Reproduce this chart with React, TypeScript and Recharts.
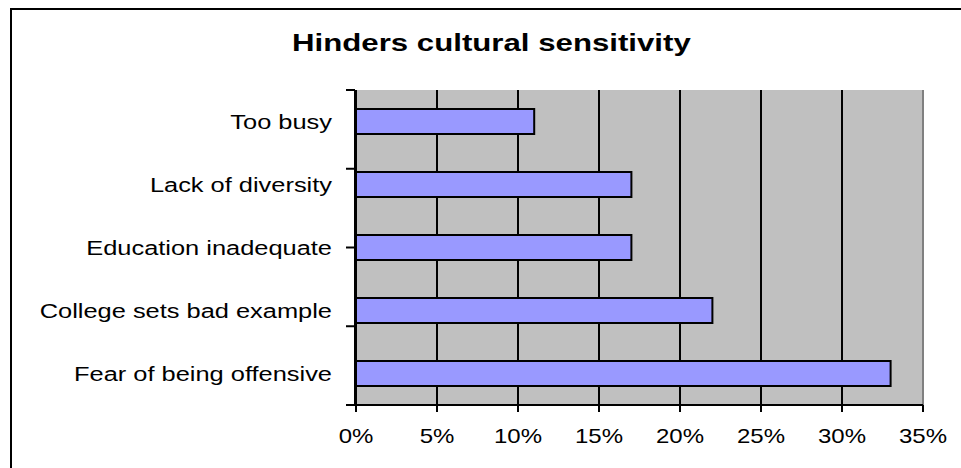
import React from "react";
import { BarChart, Bar, XAxis, YAxis, CartesianGrid, ReferenceLine } from "recharts";

const categories = [
  "Too busy",
  "Lack of diversity",
  "Education inadequate",
  "College sets bad example",
  "Fear of being offensive",
];
const values = [0.11, 0.17, 0.17, 0.22, 0.33];
const xTicks = [0, 0.05, 0.1, 0.15, 0.2, 0.25, 0.3, 0.35];
const boundaryTicks = [0, 1, 2, 3, 4, 5];
const title = "Hinders cultural sensitivity";

const data = categories.map((c, i) => ({ name: c, value: values[i] }));

const FONT = "'Liberation Sans', Arial, sans-serif";

const YTick = (props: any) => {
  const { x, y, payload } = props;
  return (
    <text
      transform={`translate(${x}, ${y}) scale(1.27, 1)`}
      x={0}
      y={0}
      dy={7}
      textAnchor="end"
      fontSize={20}
      fontFamily={FONT}
      fill="#000"
    >
      {payload.value}
    </text>
  );
};

const XTick = (props: any) => {
  const { x, y, payload } = props;
  return (
    <text
      transform={`translate(${x}, ${y}) scale(1.2, 1)`}
      x={0}
      y={0}
      dy={14.3}
      textAnchor="middle"
      fontSize={20}
      fontFamily={FONT}
      fill="#000"
    >
      {`${Math.round(payload.value * 100)}%`}
    </text>
  );
};

const EmptyTick = () => <g />;

export default function App() {
  return (
    <div
      style={{
        position: "fixed",
        left: 0,
        top: 0,
        width: 961,
        height: 468,
        overflow: "hidden",
        background: "#fff",
      }}
    >
      <div
        style={{
          position: "absolute",
          left: 10,
          top: 8,
          width: 2000,
          height: 2000,
          border: "2px solid #000",
        }}
      />
      <div
        style={{
          position: "absolute",
          left: 0,
          top: 31.4,
          width: 982,
          textAlign: "center",
          fontFamily: FONT,
          fontWeight: "bold",
          fontSize: 24,
          lineHeight: "24px",
          color: "#000",
          whiteSpace: "nowrap",
        }}
      >
        <span style={{ display: "inline-block", transform: "scaleX(1.3)" }}>{title}</span>
      </div>
      <div style={{ position: "absolute", left: 0, top: 0 }}>
        <BarChart
          width={961}
          height={468}
          data={data}
          layout="vertical"
          margin={{ top: 90, right: 38, bottom: 23, left: 0 }}
        >
          <CartesianGrid
            yAxisId="cat"
            horizontal={false}
            vertical={true}
            fill="#C0C0C0"
            fillOpacity={1}
            stroke="#000"
            strokeWidth={2}
          />
          <XAxis
            type="number"
            domain={[0, 0.35]}
            ticks={xTicks}
            interval={0}
            height={40}
            tickSize={7}
            tickMargin={17}
            axisLine={{ stroke: "#000", strokeWidth: 2 }}
            tickLine={{ stroke: "#000", strokeWidth: 2 }}
            tick={<XTick />}
          />
          <YAxis
            yAxisId="cat"
            type="category"
            dataKey="name"
            width={1}
            tickSize={0}
            tickMargin={24}
            axisLine={false}
            tickLine={false}
            interval={0}
            tick={<YTick />}
          />
          <YAxis
            yAxisId="tk"
            type="number"
            domain={[0, 5]}
            ticks={boundaryTicks}
            interval={0}
            width={355}
            tickSize={9}
            tick={<EmptyTick />}
            tickLine={{ stroke: "#000", strokeWidth: 2 }}
            axisLine={{ stroke: "#000", strokeWidth: 2 }}
          />
          <ReferenceLine yAxisId="tk" y={5} stroke="#808080" strokeWidth={2} />
          <ReferenceLine yAxisId="tk" x={0.35} stroke="#808080" strokeWidth={2} />
          <Bar
            yAxisId="cat"
            dataKey="value"
            fill="#9999FF"
            stroke="#000"
            strokeWidth={2}
            barSize={25}
            isAnimationActive={false}
          />
        </BarChart>
      </div>
    </div>
  );
}
